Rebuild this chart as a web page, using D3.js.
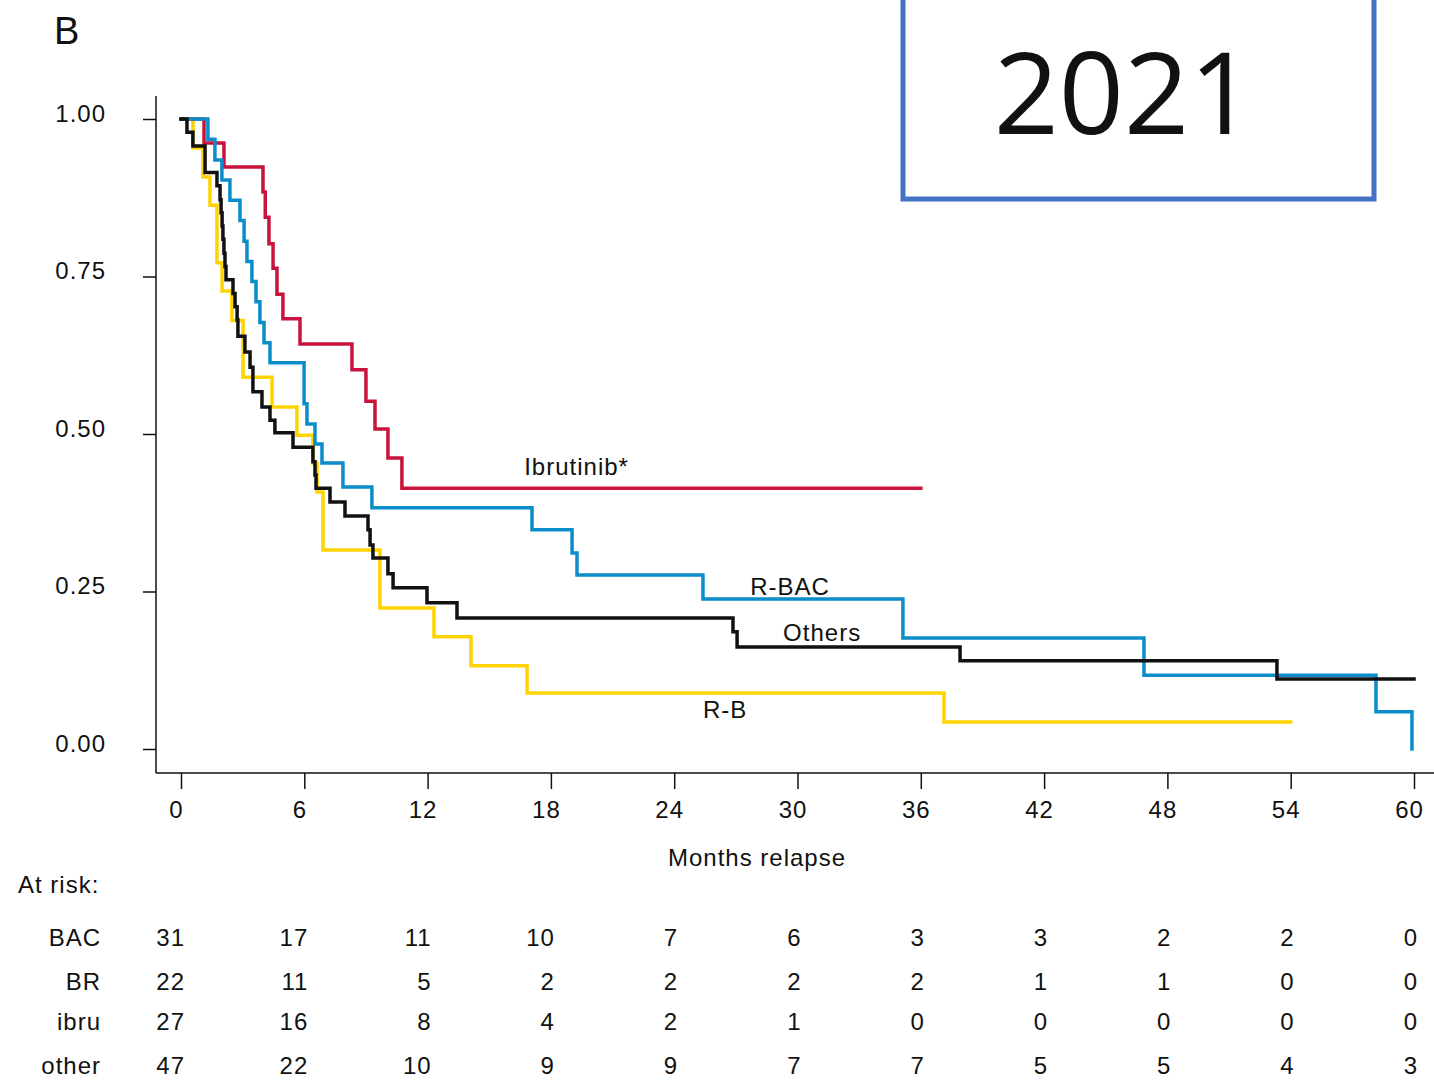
<!DOCTYPE html>
<html>
<head>
<meta charset="utf-8">
<script src="https://cdn.jsdelivr.net/npm/d3@7"></script>
<style>
  html, body { margin: 0; padding: 0; background: #fff; }
  svg { display: block; }
  text { font-family: "Liberation Sans", Arial, sans-serif; fill: #111; }
</style>
</head>
<body>
<svg id="chart" width="1434" height="1086"></svg>
<script>
// Relapse-free survival by treatment group (Kaplan-Meier step estimates)
const bacTimes  = [0, 1.31, 1.65, 1.99, 2.38, 2.87, 3.07, 3.21, 3.45, 3.65, 3.84, 4.04, 4.33, 5.99, 6.13, 6.52, 6.86, 7.88, 9.29, 17.08, 19.03, 19.27, 25.40, 35.13, 46.86, 58.15, 59.9];
const bacSurv   = [1, 0.968, 0.935, 0.903, 0.871, 0.839, 0.806, 0.774, 0.742, 0.710, 0.677, 0.645, 0.613, 0.548, 0.516, 0.484, 0.454, 0.416, 0.383, 0.348, 0.311, 0.276, 0.238, 0.176, 0.117, 0.059, 0];
const bacEnd = 59.9;

const brTimes   = [0, 0.58, 1.07, 1.41, 1.75, 2.00, 2.48, 3.02, 4.43, 5.64, 6.42, 6.62, 6.91, 9.68, 12.31, 14.11, 16.84, 37.13];
const brSurv    = [1, 0.954, 0.908, 0.863, 0.772, 0.727, 0.680, 0.590, 0.543, 0.498, 0.454, 0.408, 0.316, 0.224, 0.178, 0.132, 0.089, 0.043];
const brEnd = 54.0;

const ibruTimes = [0, 1.12, 2.09, 3.99, 4.10, 4.28, 4.48, 4.67, 4.96, 5.79, 8.32, 9.00, 9.44, 10.07, 10.75];
const ibruSurv  = [1, 0.962, 0.924, 0.884, 0.844, 0.802, 0.763, 0.722, 0.683, 0.643, 0.602, 0.552, 0.508, 0.462, 0.414];
const ibruEnd = 36.0;

const otherTimes = [0, 0.29, 0.58, 1.17, 1.75, 1.90, 1.95, 2.00, 2.04, 2.09, 2.14, 2.19, 2.53, 2.63, 2.73, 2.77, 3.11, 3.36, 3.50, 3.94, 4.33, 4.57, 5.45, 6.42, 6.52, 6.57, 7.25, 7.98, 9.10, 9.20, 9.34, 10.07, 10.32, 11.97, 13.43, 26.86, 27.06, 37.91, 53.33];
const otherSurv  = [1, 0.979, 0.957, 0.915, 0.894, 0.872, 0.851, 0.830, 0.809, 0.787, 0.766, 0.745, 0.723, 0.702, 0.681, 0.655, 0.630, 0.606, 0.567, 0.543, 0.522, 0.502, 0.479, 0.456, 0.435, 0.414, 0.392, 0.370, 0.348, 0.324, 0.303, 0.278, 0.256, 0.232, 0.208, 0.186, 0.162, 0.140, 0.111];
const otherEnd = 60.0;

// Axis ticks
const xTicks = [0, 6, 12, 18, 24, 30, 36, 42, 48, 54, 60];
const yTicks = [0, 0.25, 0.5, 0.75, 1];

// Numbers at risk at each x tick
const riskGroups = ["BAC", "BR", "ibru", "other"];
const riskBAC   = [31, 17, 11, 10, 7, 6, 3, 3, 2, 2, 0];
const riskBR    = [22, 11, 5, 2, 2, 2, 2, 1, 1, 0, 0];
const riskIbru  = [27, 16, 8, 4, 2, 1, 0, 0, 0, 0, 0];
const riskOther = [47, 22, 10, 9, 9, 7, 7, 5, 5, 4, 3];

const svg = d3.select("#chart");

const x = d3.scaleLinear().domain([0, 60]).range([181, 1414]);
const y = d3.scaleLinear().domain([0, 1]).range([749, 119]);

const fontSize = 24;
const spacing = "1px";

// Panel letter
svg.append("text").attr("x", 54).attr("y", 44)
  .style("font-size", "38px").text("B");

// Year box
svg.append("rect")
  .attr("x", 903).attr("y", -10).attr("width", 471).attr("height", 209)
  .attr("fill", "none").attr("stroke", "#4472C4").attr("stroke-width", 5);
svg.append("text").attr("x", 1124).attr("y", 134)
  .attr("text-anchor", "middle")
  .style("font-family", "'Open Sans', 'Noto Sans', sans-serif")
  .style("font-size", "114px").text("2021");

// Axis lines
svg.append("line").attr("x1", 156).attr("x2", 156).attr("y1", 96).attr("y2", 773)
  .attr("stroke", "#111").attr("stroke-width", 1.5);
svg.append("line").attr("x1", 156).attr("x2", 1434).attr("y1", 773).attr("y2", 773)
  .attr("stroke", "#111").attr("stroke-width", 1.5);

// Y axis
const yAxis = svg.append("g").attr("transform", "translate(156,0)")
  .call(d3.axisLeft(y).tickValues(yTicks).tickFormat(d3.format(".2f"))
    .tickSize(13).tickSizeOuter(0).tickPadding(37));
yAxis.select(".domain").remove();
yAxis.selectAll(".tick line").attr("stroke", "#111").attr("stroke-width", 1.5);
yAxis.selectAll(".tick text").attr("dy", "0.1em")
  .style("font-size", fontSize + "px").style("letter-spacing", spacing)
  .style("font-family", "'Liberation Sans', Arial, sans-serif").attr("fill", "#111");

// X axis
const xAxis = svg.append("g").attr("transform", "translate(0,773)")
  .call(d3.axisBottom(x).tickValues(xTicks).tickFormat(d3.format("d"))
    .tickSize(16).tickSizeOuter(0).tickPadding(12));
xAxis.select(".domain").remove();
xAxis.selectAll(".tick line").attr("stroke", "#111").attr("stroke-width", 1.5);
xAxis.selectAll(".tick text").attr("dx", "-5")
  .style("font-size", fontSize + "px").style("letter-spacing", spacing)
  .style("font-family", "'Liberation Sans', Arial, sans-serif").attr("fill", "#111");

svg.append("text").attr("x", 757).attr("y", 866).attr("text-anchor", "middle")
  .style("font-size", fontSize + "px").style("letter-spacing", spacing).text("Months relapse");

// Survival curves
const line = d3.line().x(d => x(d[0])).y(d => y(d[1])).curve(d3.curveStepAfter);
function stepPoints(times, surv, end) {
  const pts = times.map((t, i) => [t, surv[i]]);
  pts.push([end, surv[surv.length - 1]]);
  return pts;
}
const series = [
  { name: "R-B",        times: brTimes,    surv: brSurv,    end: brEnd,    color: "#FFD300" },
  { name: "Ibrutinib*", times: ibruTimes,  surv: ibruSurv,  end: ibruEnd,  color: "#C8143C" },
  { name: "R-BAC",      times: bacTimes,   surv: bacSurv,   end: bacEnd,   color: "#0A8DC9" },
  { name: "Others",     times: otherTimes, surv: otherSurv, end: otherEnd, color: "#111111" }
];
svg.append("g").selectAll("path").data(series).join("path")
  .attr("d", d => line(stepPoints(d.times, d.surv, d.end)))
  .attr("fill", "none").attr("stroke", d => d.color).attr("stroke-width", 3.5)
  .attr("stroke-linejoin", "miter").attr("stroke-linecap", "square");

// Curve labels
const curveLabels = [
  { text: "Ibrutinib*", t: 16.7, s: 0.435 },
  { text: "R-BAC",      t: 27.7, s: 0.245 },
  { text: "Others",     t: 29.3, s: 0.171 },
  { text: "R-B",        t: 25.4, s: 0.049 }
];
svg.append("g").selectAll("text").data(curveLabels).join("text")
  .attr("x", d => x(d.t)).attr("y", d => y(d.s))
  .style("font-size", fontSize + "px").style("letter-spacing", spacing)
  .text(d => d.text);

// Numbers at risk table
svg.append("text").attr("x", 18).attr("y", 893)
  .style("font-size", fontSize + "px").style("letter-spacing", spacing).text("At risk:");
const riskRows = [riskBAC, riskBR, riskIbru, riskOther];
const rowY = [946, 990, 1030, 1074];
riskRows.forEach((row, i) => {
  svg.append("text").attr("x", 101).attr("y", rowY[i]).attr("text-anchor", "end")
    .style("font-size", fontSize + "px").style("letter-spacing", spacing).text(riskGroups[i]);
  svg.append("g").selectAll("text").data(row).join("text")
    .attr("x", (d, j) => x(xTicks[j]) + 4).attr("y", rowY[i]).attr("text-anchor", "end")
    .style("font-size", fontSize + "px").style("letter-spacing", spacing)
    .text(d => d);
});
</script>
</body>
</html>
